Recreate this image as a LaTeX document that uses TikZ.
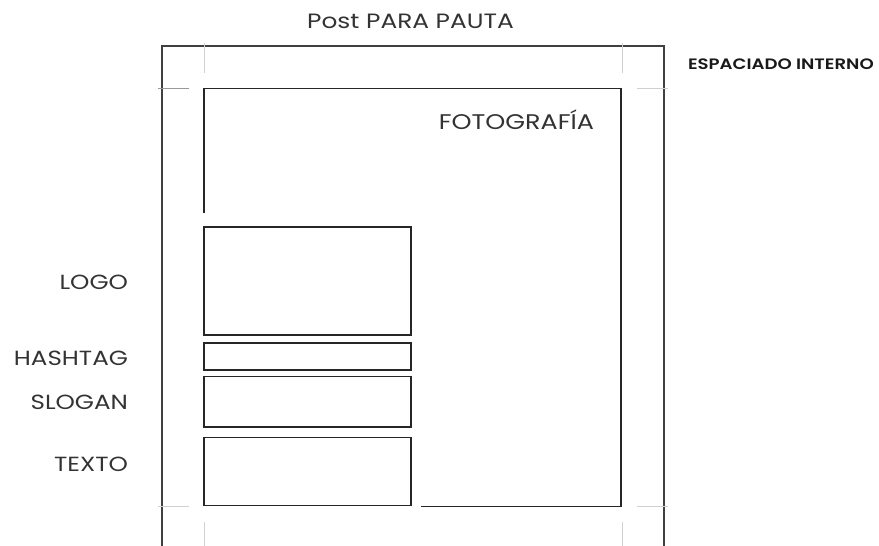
\documentclass[tikz,border=0pt]{standalone}
\usepackage{fontspec}
\setmainfont{Poppins}[BoldFont=* SemiBold, FakeStretch=1.2]
\usepackage{tikz}
\usetikzlibrary{positioning}

\begin{document}
\begin{tikzpicture}[x=1pt,y=-1pt,line join=miter,
										every node/.style={inner sep=0pt,outer sep=0pt}]
	\tikzstyle{caja}=[draw=black!85,line width=1.4pt,anchor=north west,minimum width=207pt]
	\tikzstyle{marco}=[draw=black!75,line width=1.4pt]
	\tikzstyle{guia}=[draw=black!18,line width=1pt]
	\tikzstyle{etiqueta}=[anchor=base east,font=\fontsize{20.5}{21}\selectfont,text=black!80]

	\useasboundingbox (0,0) rectangle (879,546);

	% marco exterior y fotografia
	\draw[marco] (162,546) -- (162,46) -- (664,46) -- (664,546);
	\draw[marco,draw=black!85] (204,213) -- (204,88.5) -- (621,88.5) -- (621,506.5) -- (421,506.5);

	% guias de espaciado
	\draw[guia,draw=black!40] (158,88.5) -- (189,88.5);
	\draw[guia] (637,88.5) -- (668,88.5);
	\draw[guia] (158,506.5) -- (189,506.5);
	\draw[guia] (637,506.5) -- (668,506.5);
	\draw[guia] (204,43) -- (204,73);
	\draw[guia] (622,43) -- (622,73);
	\draw[guia] (204,522) -- (204,546);
	\draw[guia] (622,522) -- (622,546);

	% cajas
	\node[caja,minimum height=108pt] (logo)    at (204,227)   {};
	\node[caja,minimum height=27pt]  (hashtag) at (204,343)   {};
	\node[caja,minimum height=50.5pt] (slogan) at (204,376.5) {};
	\node[caja,minimum height=68pt]  (texto)   at (204,437.5) {};

	% textos
	\node[etiqueta] (tlogo)    at (128,289.3) {LOGO};
	\node[etiqueta] (thashtag) at (128,365)   {HASHTAG};
	\node[etiqueta] (tslogan)  at (128,409)   {SLOGAN};
	\node[etiqueta] (ttexto)   at (128,471.5) {TEXTO};
	\node[etiqueta,font=\fontsize{21.2}{22}\selectfont] (tfoto) at (594,129) {FOTOGRAFÍA};
	\node[anchor=base,font=\fontsize{20.7}{21}\selectfont,text=black!80] (titulo) at (410.5,28) {Post PARA PAUTA};
	\node[anchor=base west,font=\bfseries\fontsize{15.1}{16}\selectfont,text=black!90] (espaciado) at (688,69) {ESPACIADO INTERNO};
\end{tikzpicture}
\end{document}
